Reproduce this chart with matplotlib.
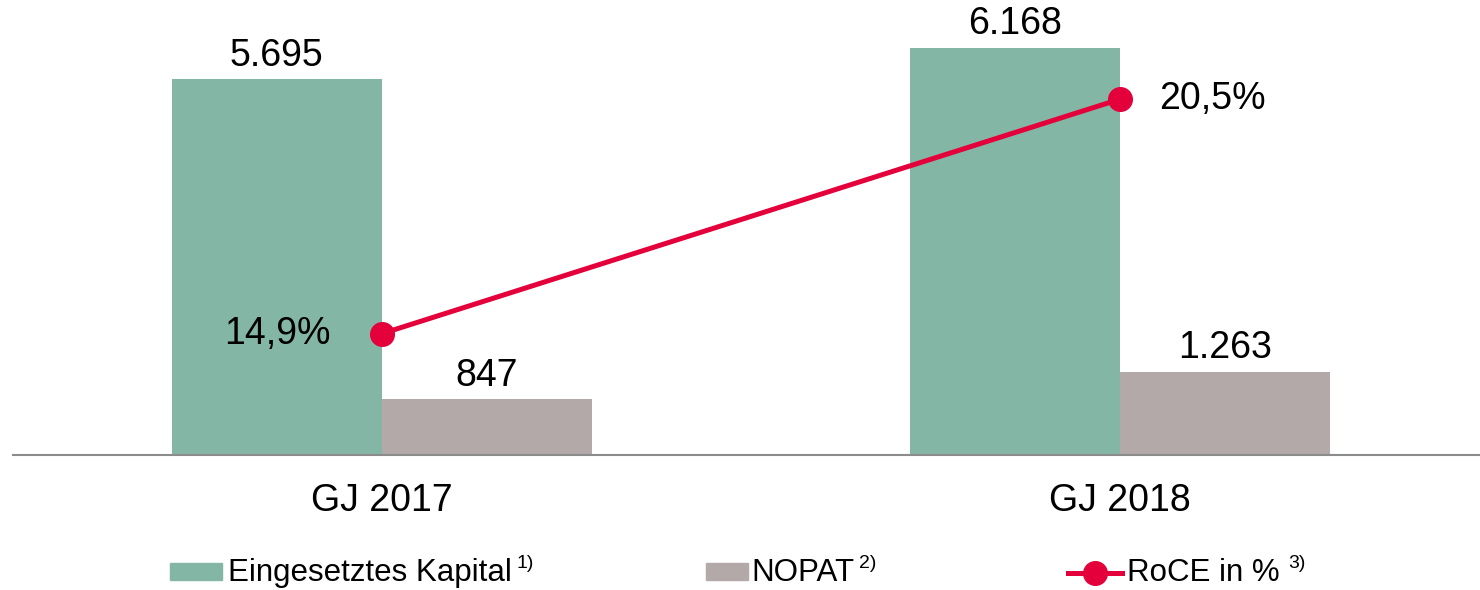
import matplotlib.pyplot as plt
from matplotlib.patches import Rectangle
from matplotlib.lines import Line2D

plt.rcParams['font.family'] = ['Liberation Sans', 'DejaVu Sans']

# data
years = ["GJ 2017", "GJ 2018"]
kapital = [5695, 6168]
nopat = [847, 1263]
roce = [14.9, 20.5]
kapital_lbl = ["5.695", "6.168"]
nopat_lbl = ["847", "1.263"]
roce_lbl = ["14,9%", "20,5%"]

green = "#84b6a6"
grey = "#b3a9a8"
red = "#e4003a"

W, H = 1480, 590
fig = plt.figure(figsize=(W / 100, H / 100), dpi=100)
ax = fig.add_axes([13 / W, (H - 455) / H, 1 - 13 / W, 455 / H])

x = [0, 1]
bw = 0.285
ax.bar([i - bw / 2 for i in x], kapital, bw, color=green)
ax.bar([i + bw / 2 for i in x], nopat, bw, color=grey)
ax.set_xlim(-0.5, 1.488)
ax.set_ylim(0, 6894)

for i in x:
    ax.annotate(kapital_lbl[i], (i - bw / 2, kapital[i]), xytext=(0, 4),
                textcoords="offset points", ha="center", va="bottom", fontsize=27)
    ax.annotate(nopat_lbl[i], (i + bw / 2, nopat[i]), xytext=(0, 4),
                textcoords="offset points", ha="center", va="bottom", fontsize=27)

for s in ["top", "right", "left"]:
    ax.spines[s].set_visible(False)
ax.spines["bottom"].set_color("#8c8c8c")
ax.spines["bottom"].set_linewidth(1.5)
ax.set_yticks([])
ax.set_xticks(x)
ax.set_xticklabels(years, fontsize=27)
ax.tick_params(axis="x", length=0, pad=20)

ax2 = ax.twinx()
ax2.set_ylim(12.0, 22.87)
ax2.axis("off")
ax2.plot(x, roce, color=red, lw=3.6, marker="o", ms=17)
ax2.annotate(roce_lbl[0], (0, roce[0]), xytext=(-37, 0), textcoords="offset points",
             ha="right", va="center", fontsize=27)
ax2.annotate(roce_lbl[1], (1, roce[1]), xytext=(28, 0), textcoords="offset points",
             ha="left", va="center", fontsize=27)

# legend
def fx(px):
    return px / W

def fy(py):
    return 1 - py / H

fig.patches.append(Rectangle((fx(170), fy(580)), 52 / W, 17 / H, color=green,
                             transform=fig.transFigure))
fig.text(fx(228), fy(573), "Eingesetztes Kapital", fontsize=22.5, va="center")
fig.text(fx(516), fy(563), "1)", fontsize=14, va="center")

fig.patches.append(Rectangle((fx(706), fy(580)), 42 / W, 17 / H, color=grey,
                             transform=fig.transFigure))
fig.text(fx(751), fy(573), "NOPAT", fontsize=22.5, va="center")
fig.text(fx(859), fy(563), "2)", fontsize=14, va="center")

fig.lines.append(Line2D([fx(1068), fx(1122)], [fy(573), fy(573)], color=red, lw=3.6,
                        transform=fig.transFigure))
fig.lines.append(Line2D([fx(1095)], [fy(573)], color=red, marker="o", ms=17,
                        transform=fig.transFigure))
fig.text(fx(1127), fy(573), "RoCE in %", fontsize=22.5, va="center")
fig.text(fx(1288), fy(563), "3)", fontsize=14, va="center")

fig.savefig("out.png", dpi=100)
